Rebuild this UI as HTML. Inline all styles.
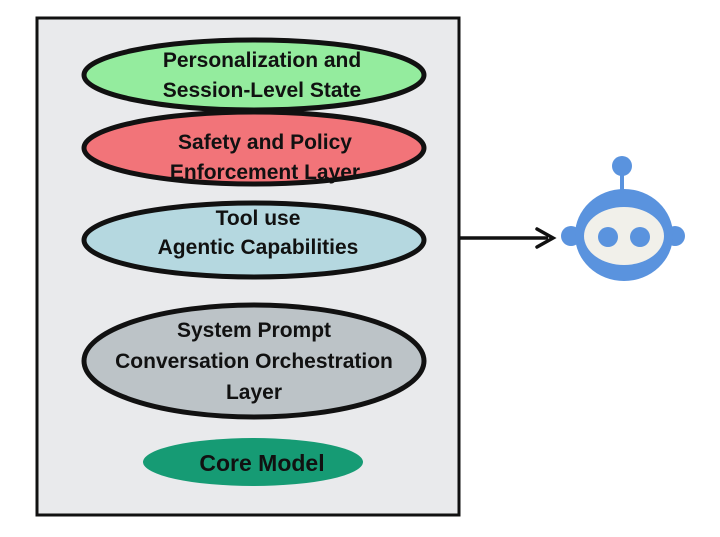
<!DOCTYPE html>
<html><head><style>body{margin:0;background:#fff}</style></head><body>
<svg width="720" height="532" viewBox="0 0 720 532" xmlns="http://www.w3.org/2000/svg" font-family="Liberation Sans, sans-serif" font-weight="bold" font-size="21" text-anchor="middle" fill="#111">
<rect x="37" y="18" width="422" height="497" fill="#e9eaec" stroke="#111" stroke-width="3"/>
<ellipse cx="254" cy="75" rx="170" ry="35" fill="#94ec9e" stroke="#111" stroke-width="5"/>
<text x="262" y="67">Personalization and</text><text x="262" y="97">Session-Level State</text>
<ellipse cx="254" cy="148" rx="170" ry="36" fill="#f27479" stroke="#111" stroke-width="5"/>
<text x="265" y="149">Safety and Policy</text><text x="265" y="179">Enforcement Layer</text>
<ellipse cx="254" cy="240" rx="170" ry="37" fill="#b5d8e0" stroke="#111" stroke-width="5"/>
<text x="258" y="225">Tool use</text><text x="258" y="254">Agentic Capabilities</text>
<ellipse cx="254" cy="361" rx="170" ry="56" fill="#bcc3c7" stroke="#111" stroke-width="5"/>
<text x="254" y="337">System Prompt</text><text x="254" y="368">Conversation Orchestration</text><text x="254" y="399">Layer</text>
<ellipse cx="253" cy="462" rx="110" ry="24" fill="#169b74"/>
<text x="262" y="471" font-size="23">Core Model</text>
<line x1="460" y1="238" x2="548" y2="238" stroke="#111" stroke-width="3.5"/>
<path d="M537 229 L553 238 L537 247" fill="none" stroke="#111" stroke-width="3.5" stroke-linecap="round"/>
<line x1="622" y1="170" x2="622" y2="195" stroke="#5a93de" stroke-width="4"/>
<circle cx="622" cy="166" r="10" fill="#5a93de"/>
<circle cx="571" cy="236" r="10" fill="#5a93de"/>
<circle cx="675" cy="236" r="10" fill="#5a93de"/>
<ellipse cx="624" cy="235" rx="49" ry="46" fill="#5a93de"/>
<ellipse cx="624" cy="236" rx="40" ry="29" fill="#f1f0ea"/>
<circle cx="608" cy="237" r="10" fill="#5a93de"/>
<circle cx="640" cy="237" r="10" fill="#5a93de"/>
</svg>
</body></html>
